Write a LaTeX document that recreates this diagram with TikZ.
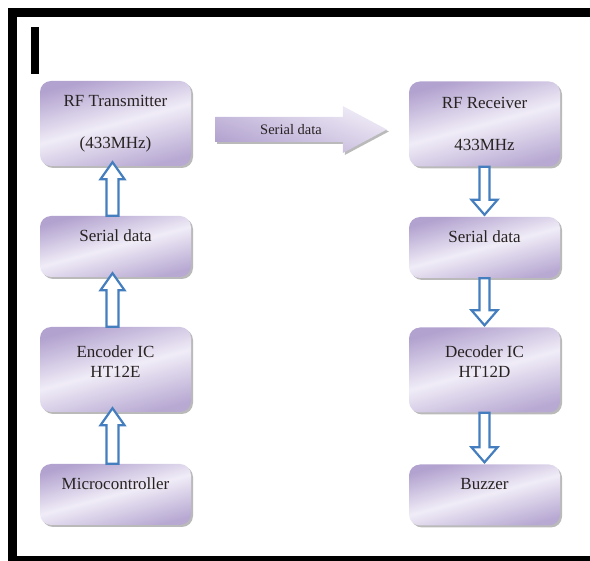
\documentclass[tikz,border=0pt]{standalone}
\usepackage{fontspec}
\setmainfont{Liberation Serif}
\usetikzlibrary{calc,shadows}

\definecolor{boxdark}{RGB}{178,162,207}
\definecolor{boxlight}{RGB}{240,236,247}
\definecolor{arrowblue}{RGB}{68,126,190}
\definecolor{labeltext}{RGB}{40,34,34}

\tikzset{
  blockbox/.style={rectangle, rounded corners=11pt, minimum width=151pt,
    top color=boxdark, bottom color=boxdark!92, middle color=boxlight,
    shading angle=15,
    drop shadow={shadow xshift=2pt, shadow yshift=-2pt, fill=black!45, opacity=.6},
    text=labeltext, font=\fontsize{17}{20}\selectfont, align=center},
  tallbox/.style={blockbox, minimum height=85pt},
  shortbox/.style={blockbox, minimum height=61pt, text height=12pt, text depth=22pt},
  hollow/.style={draw=arrowblue, line width=2.2pt, fill=white, line join=miter},
  linkarrow/.style={top color=boxlight, bottom color=boxdark, shading angle=-20,
    drop shadow={shadow xshift=2pt, shadow yshift=-2pt, fill=black!45, opacity=.6}},
}

% hollow block arrow, lower node #1 up to upper node #2
\newcommand\uparr[2]{%
  \draw[hollow] let \p1=(#1.north), \p2=(#2.south) in
    (\x1-9pt,\y1) -- (\x1-9pt,\y2-13pt) -- (\x1-15pt,\y2-13pt) -- (\x1-3pt,\y2+4pt)
    -- (\x1+9pt,\y2-13pt) -- (\x1+3pt,\y2-13pt) -- (\x1+3pt,\y1) -- cycle;}
% hollow block arrow, upper node #1 down to lower node #2
\newcommand\downarr[2]{%
  \draw[hollow] let \p1=(#1.south), \p2=(#2.north) in
    (\x1-5pt,\y1) -- (\x1-5pt,\y2+17pt) -- (\x1-13pt,\y2+17pt) -- (\x1,\y2+2pt)
    -- (\x1+13pt,\y2+17pt) -- (\x1+5pt,\y2+17pt) -- (\x1+5pt,\y1) -- cycle;}

\begin{document}
\begin{tikzpicture}[x=1pt,y=-1pt]
  \useasboundingbox (0,0) rectangle (590,561);

  % frame
  \fill[black] (8,8) rectangle (590,17);
  \fill[black] (8,8) rectangle (17,561);
  \fill[black] (8,556) rectangle (590,561);
  \fill[black] (31,27) rectangle (39,74);

  % transmitter side
  \node[tallbox] (tx) at (115.5,123.5) {RF Transmitter\\[22pt](433MHz)};
  \node[shortbox] (txser) at (115.5,246.5) {Serial data};
  \node[tallbox, text depth=16pt] (enc) at (115.5,369.5) {Encoder IC\\HT12E};
  \node[shortbox] (mcu) at (115.5,494.5) {Microcontroller};

  % receiver side
  \node[tallbox] (rx) at (484.5,124) {RF Receiver\\[22pt]433MHz};
  \node[shortbox] (rxser) at (484.5,247.5) {Serial data};
  \node[tallbox, text depth=16pt] (dec) at (484.5,370) {Decoder IC\\HT12D};
  \node[shortbox] (buz) at (484.5,495) {Buzzer};

  % radio link
  \path[linkarrow] let \p1=(tx.east), \p2=(rx.west) in
    (\x1+24pt,\y1-18.5pt) -- (\x2-66pt,\y1-18.5pt) -- (\x2-66pt,\y1-29.5pt)
    -- (\x2-22pt,\y1-6pt) -- (\x2-66pt,\y1+17.5pt) -- (\x2-66pt,\y1+6.5pt)
    -- (\x1+24pt,\y1+6.5pt) -- cycle;
  \node[text=labeltext, font=\fontsize{14.5}{17}\selectfont, xshift=-9pt, yshift=-6pt]
    (link) at ($(tx.east)!0.5!(rx.west)$) {Serial data};

  \uparr{mcu}{enc}
  \uparr{enc}{txser}
  \uparr{txser}{tx}

  \downarr{rx}{rxser}
  \downarr{rxser}{dec}
  \downarr{dec}{buz}
\end{tikzpicture}
\end{document}
